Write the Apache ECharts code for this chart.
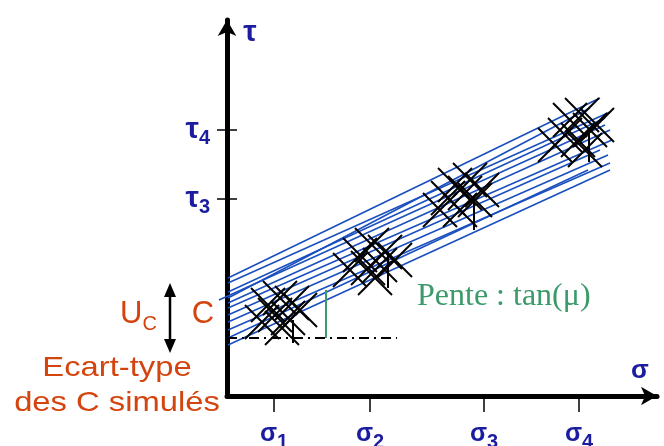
<!DOCTYPE html>
<html>
<head>
<meta charset="utf-8">
<script src="https://cdn.jsdelivr.net/npm/echarts@6/dist/echarts.min.js"></script>
<style>html,body{margin:0;padding:0;background:#fff}#c{width:664px;height:446px}</style>
</head>
<body>
<div id="c"></div>
<script>
// ---- data (abstract diagram units) ----
const xTickValues = [47, 143, 257, 352];
const xTickLabels = ['1', '2', '3', '4'];   // σ subscripts
const yTickValues = [197, 266];
const yTickLabels = ['3', '4'];             // τ subscripts

// simulated Mohr-Coulomb lines: [x1, y1, x2, y2]
const slopeLines = [
  [1, 118, 373, 298],
  [1, 113, 383, 284],
  [1, 104, 378, 278],
  [-8, 96, 378, 271],
  [1, 93, 383, 266],
  [1, 88, 385, 256],
  [1, 81, 373, 246],
  [1, 74, 381, 241],
  [1, 66, 383, 233],
  [1, 51, 383, 226],
  [1, 98, 363, 288],
  [1, 58, 361, 226]
];

// simulated (σ, τ) points, one cluster per test
const cluster1 = [[41,91],[53,98],[65,93],[48,81],[61,78],[35,74],[73,86],[55,68]];
const cluster2 = [[133,141],[145,151],[158,144],[141,128],[153,131],[123,126],[168,136],[148,118]];
const cluster3 = [[228,211],[238,203],[221,198],[248,196],[233,186],[213,186],[243,216],[255,206]];
const cluster4 = [[343,276],[355,281],[363,266],[338,261],[351,256],[328,251],[370,271],[358,246]];
// vertical strokes in each cluster: [x, yTop, x, yBottom]
const clusterStems = [[66,76,66,53],[161,144,161,108],[247,199,247,166],[362,268,362,234]];

const cLevel = 58;          // C marker level
const slopeMarkX = 99;      // green slope bar
const slopeMarkTop = 106;
const dashEndX = 170;

const NAVY = '#1c1ca0', ORANGE = '#d4440f', GREEN = '#3a9a6a', LINEBLUE = '#1a4fbf';

const chart = echarts.init(document.getElementById('c'));

function segItem(color, width) {
  return function (params, api) {
    const p1 = api.coord([api.value(0), api.value(1)]);
    const p2 = api.coord([api.value(2), api.value(3)]);
    return { type: 'line', shape: { x1: p1[0], y1: p1[1], x2: p2[0], y2: p2[1] },
      style: { stroke: color, lineWidth: width } };
  };
}
function crossItem(params, api) {
  const p = api.coord([api.value(0), api.value(1)]);
  const h = 17;
  return { type: 'group', children: [
    { type: 'line', shape: { x1: p[0]-h, y1: p[1]-h, x2: p[0]+h, y2: p[1]+h }, style: { stroke: '#000', lineWidth: 2 } },
    { type: 'line', shape: { x1: p[0]-h, y1: p[1]+h, x2: p[0]+h, y2: p[1]-h }, style: { stroke: '#000', lineWidth: 2 } }
  ]};
}

function labRich(size) {
  return {
    a: { fontSize: size, fontWeight: 'bold', color: NAVY, fontFamily: 'Liberation Sans', lineHeight: 36 },
    b: { fontSize: 20, fontWeight: 'bold', color: NAVY, fontFamily: 'Liberation Sans', lineHeight: 20, verticalAlign: 'bottom' }
  };
}

const option = {
  animation: false,
  grid: { left: 227, right: 7, top: 20, bottom: 50, outerBoundsMode: 'none', containLabel: false },
  xAxis: {
    type: 'value', min: 0, max: 430,
    name: 'σ', nameLocation: 'end', nameGap: -17,
    nameTextStyle: { fontSize: 26, fontWeight: 'bold', color: NAVY, fontFamily: 'Liberation Sans', align: 'center', verticalAlign: 'bottom', lineHeight: 50 },
    axisLine: { show: true, symbol: ['none', 'arrow'], symbolSize: [14, 16], lineStyle: { color: '#000', width: 5 } },
    axisTick: { show: true, customValues: xTickValues, length: 16, lineStyle: { color: '#000', width: 1.5 } },
    axisLabel: { show: true, customValues: xTickValues, margin: 20,
      formatter: v => '{a|σ}{b|' + xTickLabels[xTickValues.indexOf(v)] + '}', rich: labRich(25) },
    splitLine: { show: false }
  },
  yAxis: [{
    type: 'value', min: 0, max: 376,
    name: 'τ', nameLocation: 'end', nameGap: -13,
    nameTextStyle: { fontSize: 30, fontWeight: 'bold', color: NAVY, fontFamily: 'Liberation Sans', align: 'center', verticalAlign: 'middle', padding: [0, 0, 0, 46] },
    axisLine: { show: true, symbol: ['none', 'arrow'], symbolSize: [14, 16], lineStyle: { color: '#000', width: 5 } },
    axisTick: { show: true, customValues: yTickValues, length: 10, lineStyle: { color: '#000', width: 1.5 } },
    axisLabel: { show: true, customValues: yTickValues, margin: 17,
      formatter: v => '{a|τ}{b|' + yTickLabels[yTickValues.indexOf(v)] + '}', rich: labRich(30) },
    splitLine: { show: false }
  }, {
    type: 'value', min: 0, max: 376, position: 'left', offset: 0,
    axisLine: { show: false },
    axisTick: { show: true, inside: true, customValues: yTickValues, length: 10, lineStyle: { color: '#000', width: 1.5 } },
    axisLabel: { show: false }, splitLine: { show: false }
  }],
  series: [
    { type: 'custom', renderItem: segItem(LINEBLUE, 1.6), data: slopeLines, clip: false, z: 2 },
    { type: 'custom', renderItem: crossItem, data: cluster1, z: 3 },
    { type: 'custom', renderItem: crossItem, data: cluster2, z: 3 },
    { type: 'custom', renderItem: crossItem, data: cluster3, z: 3 },
    { type: 'custom', renderItem: crossItem, data: cluster4, z: 3 },
    { type: 'custom', renderItem: segItem('#000', 2), data: clusterStems, z: 3 },
    { type: 'line', data: [[0, cLevel], [dashEndX, cLevel]], symbol: 'none', z: 4,
      lineStyle: { color: '#000', width: 2, type: [10, 5, 2, 5] } },
    { type: 'line', data: [[slopeMarkX, cLevel], [slopeMarkX, slopeMarkTop]], symbol: 'none', z: 4,
      lineStyle: { color: GREEN, width: 2 } }
  ],
  graphic: [
    { type: 'text', x: 417, y: 297, style: { text: 'Pente : tan(μ)', fill: GREEN, font: '32px "Liberation Serif"', verticalAlign: 'middle' } },
    { type: 'text', x: 203, y: 314, style: { text: 'C', fill: ORANGE, font: '31px "Liberation Sans"', align: 'center', verticalAlign: 'middle' } },
    { type: 'text', x: 120, y: 314, style: { text: '{u|U}{c|C}', verticalAlign: 'middle',
        rich: { u: { fontSize: 31, fill: ORANGE, fontFamily: 'Liberation Sans', lineHeight: 40 },
                c: { fontSize: 20, fill: ORANGE, fontFamily: 'Liberation Sans', lineHeight: 22, verticalAlign: 'bottom' } } } },
    { type: 'line', shape: { x1: 170, y1: 293, x2: 170, y2: 343 }, style: { stroke: '#000', lineWidth: 2.5 } },
    { type: 'polygon', shape: { points: [[170, 283], [164, 297], [176, 297]] }, style: { fill: '#000' } },
    { type: 'polygon', shape: { points: [[170, 353], [164, 339], [176, 339]] }, style: { fill: '#000' } },
    { type: 'text', x: 117, y: 368, scaleX: 1.17, originX: 0, style: { text: 'Ecart-type', fill: ORANGE, font: '28px "Liberation Sans"', align: 'center', verticalAlign: 'middle' } },
    { type: 'text', x: 117, y: 403, scaleX: 1.17, originX: 0, style: { text: 'des C simulés', fill: ORANGE, font: '28px "Liberation Sans"', align: 'center', verticalAlign: 'middle' } }
  ]
};
chart.setOption(option);
</script>
</body>
</html>
